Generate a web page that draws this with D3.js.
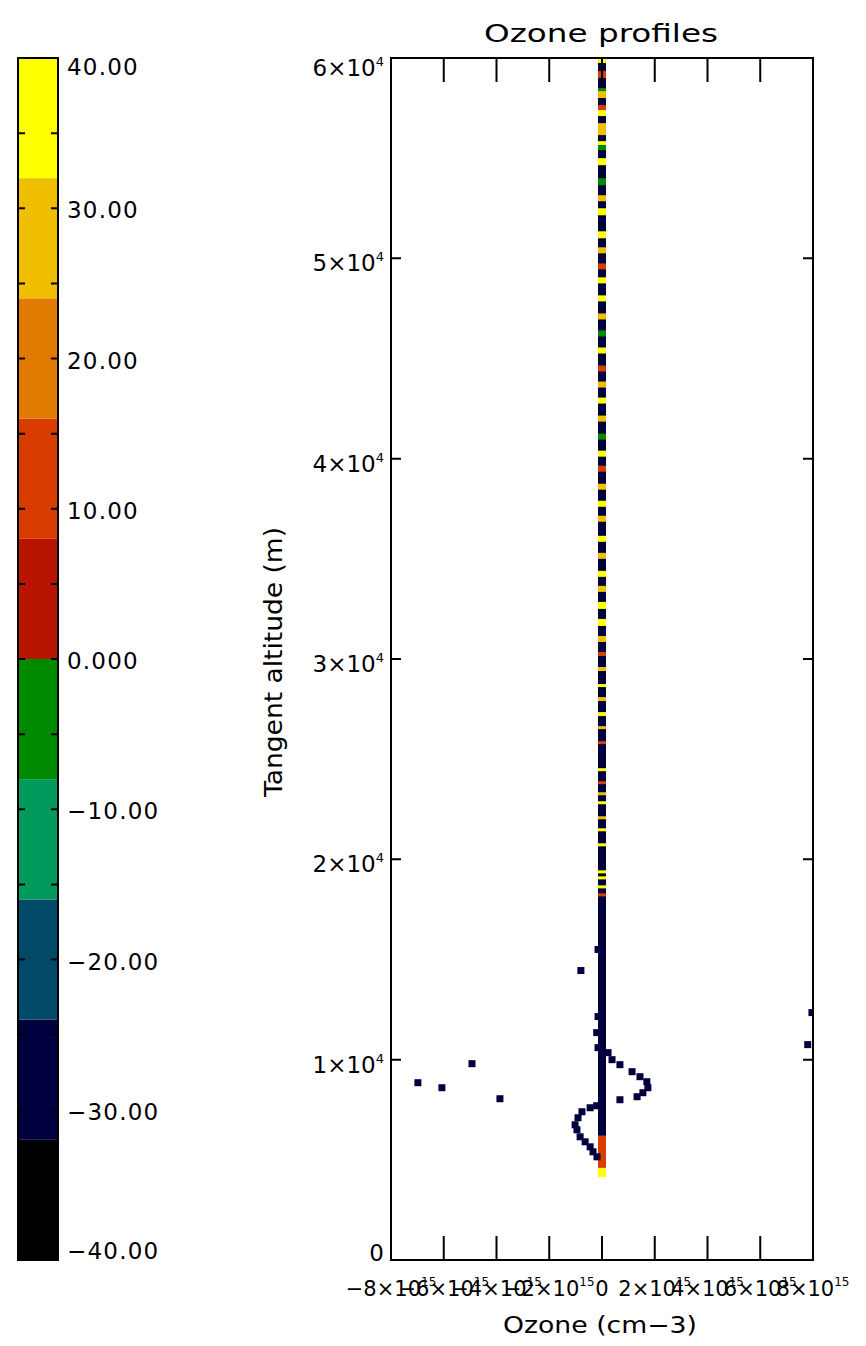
<!DOCTYPE html>
<html><head><meta charset="utf-8">
<script src="https://cdn.jsdelivr.net/npm/d3@7/dist/d3.min.js"></script>
<style>
body{margin:0;background:#fff}
svg{display:block}
text{font-family:"DejaVu Sans",sans-serif;fill:#000}
</style>
</head><body>
<svg id="chart" width="866" height="1346"></svg>
<script>
// ---------------- data ----------------
const colorThresholds = [-32,-24,-16,-8,0,8,16,24,32];
const colorBands = ["#000000","#00003f","#004a68","#009a5c","#008a00","#b81400","#d83c00","#e07a00","#f0be00","#ffff00"];
const colorbarBreaks = [-40,-32,-24,-16,-8,0,8,16,24,32,40];
const colorbarTicks = [40,30,20,10,0,-10,-20,-30,-40];
const colorbarLabels = ["40.00","30.00","20.00","10.00","0.000","\u221210.00","\u221220.00","\u221230.00","\u221240.00"];
const colorbarMinor = [35,25,15,5,-5,-15,-25,-35];

const xTicks = [-8e15,-6e15,-4e15,-2e15,0,2e15,4e15,6e15,8e15];
const xTickMant = ["\u22128","\u22126","\u22124","\u22122","0","2","4","6","8"];
const xTickExp = ["15","15","15","15","","15","15","15","15"];
const yTicks = [0,1e4,2e4,3e4,4e4,5e4,6e4];
const yTickMant = ["0","1","2","3","4","5","6"];
const yTickExp = ["","4","4","4","4","4","4"];

// profile column at ozone = 0 : base segments (altitude m)
const columnBottom = [4150, 4600, 6200];
const columnTop    = [4600, 6200, 60000];
const columnValue  = [36, 12, -28];

// coloured stripes along the column (altitude m)
const stripeBottom = [59750,59000,58350,58000,57400,57100,56150,55650,55400,54650,53650,52850,52150,51000,
  50250,49450,48750,47850,46950,46100,45250,44350,43550,42750,41850,40950,40100,39350,38450,37600,36850,35850,35000,34100,33350,
  32500,31650,30850,30150,29400,28650,27900,27150,26500,25750,24450,23750,23250,22850,22050,21450,20700,19350,19050,18600,18200];
const stripeTop    = [60000,59350,58500,58350,57650,57400,56750,55850,55650,55000,54000,53150,52500,51350,
  50550,49750,49050,48150,47250,46400,45550,44650,43850,43050,42150,41250,40400,39650,38750,37900,37150,36150,35300,34400,33650,
  32850,32000,31150,30350,29600,28750,28100,27350,26650,25900,24550,23900,23350,22900,22150,21550,20800,19450,19150,18700,18300];
const stripeValue  = [36,12,-4,28,12,36,28,36,-4,36,-4,28,36,36,
  28,12,36,36,28,-4,36,12,28,36,28,-4,36,12,28,36,28,36,28,36,28,
  36,36,28,12,28,36,28,36,28,12,36,12,28,36,28,36,36,36,36,36,12];

// scattered retrievals (ozone cm-3, altitude m), all in the -30 band
const pointOzone = [-0.15e15,-0.8e15,-0.15e15,-0.2e15,-0.15e15,
  0.23e15,0.38e15,0.68e15,1.14e15,1.44e15,1.7e15,1.74e15,1.55e15,1.33e15,0.68e15,
  -0.2e15,-0.45e15,-0.76e15,-0.91e15,-1.02e15,-0.95e15,-0.83e15,-0.64e15,-0.45e15,-0.34e15,-0.19e15,
  -6.98e15,-6.07e15,-4.93e15,-3.87e15,
  7.96e15,7.8e15];
const pointAlt = [15500,14450,12150,11350,10600,
  10350,10000,9750,9400,9150,8900,8600,8350,8150,8000,
  7700,7600,7400,7100,6750,6500,6150,5900,5650,5400,5150,
  8850,8600,9800,8050,
  12350,10750];
const pointValue = pointOzone.map(()=>-28);

// ---------------- layout ----------------
const svg = d3.select("#chart");
const plot = {left:391, right:813, top:58, bottom:1260};
const cbar = {left:18, right:58, top:58, bottom:1260};
const color = d3.scaleThreshold().domain(colorThresholds).range(colorBands);

const x = d3.scaleLinear().domain([-8e15,8e15]).range([plot.left,plot.right]);
const y = d3.scaleLinear().domain([0,6e4]).range([plot.bottom,plot.top]);
const cy = d3.scaleLinear().domain([-40,40]).range([cbar.bottom,cbar.top]);

// ---------------- colour bar ----------------
const cb = svg.append("g");
cb.selectAll("rect.band").data(d3.range(colorBands.length)).join("rect")
  .attr("x",cbar.left).attr("width",cbar.right-cbar.left)
  .attr("y",i=>cy(colorbarBreaks[i+1])).attr("height",i=>cy(colorbarBreaks[i])-cy(colorbarBreaks[i+1]))
  .attr("fill",i=>colorBands[i]);
const allCbTicks = colorbarTicks.concat(colorbarMinor);
cb.selectAll("path.tk").data(allCbTicks).join("path")
  .attr("d",v=>`M${cbar.left},${cy(v)}h7M${cbar.right},${cy(v)}h-7`)
  .attr("stroke","#000").attr("stroke-width",2);
cb.append("rect").attr("x",cbar.left).attr("y",cbar.top).attr("width",cbar.right-cbar.left)
  .attr("height",cbar.bottom-cbar.top).attr("fill","none").attr("stroke","#000").attr("stroke-width",2);
cb.selectAll("text").data(colorbarTicks).join("text")
  .attr("x",67)
  .attr("y",(v,i)=> i===0 ? cy(v)+17 : (i===colorbarTicks.length-1 ? cy(v)-1 : cy(v)+10))
  .attr("font-size",23).attr("letter-spacing",1.2)
  .text((v,i)=>colorbarLabels[i]);

// ---------------- plot ----------------
const clipId = "plotclip";
svg.append("clipPath").attr("id",clipId).append("rect")
  .attr("x",plot.left).attr("y",plot.top).attr("width",plot.right-plot.left).attr("height",plot.bottom-plot.top);
const data = svg.append("g").attr("clip-path",`url(#${clipId})`);
const half = 4;
// column base
data.selectAll("rect.col").data(columnValue).join("rect")
  .attr("x",x(0)-half).attr("width",2*half)
  .attr("y",(v,i)=>y(columnTop[i])).attr("height",(v,i)=>y(columnBottom[i])-y(columnTop[i]))
  .attr("fill",v=>color(v));
// stripes
data.selectAll("rect.stripe").data(stripeValue).join("rect")
  .attr("x",x(0)-half).attr("width",2*half)
  .attr("y",(v,i)=>y(stripeTop[i])).attr("height",(v,i)=>Math.max(3,y(stripeBottom[i])-y(stripeTop[i])))
  .attr("fill",v=>color(v));
// scattered points
data.selectAll("rect.pt").data(pointValue).join("rect")
  .attr("x",(v,i)=>x(pointOzone[i])-3.5).attr("y",(v,i)=>y(pointAlt[i])-3.5)
  .attr("width",7).attr("height",7).attr("fill",v=>color(v));

// frame
svg.append("rect").attr("x",plot.left).attr("y",plot.top).attr("width",plot.right-plot.left)
  .attr("height",plot.bottom-plot.top).attr("fill","none").attr("stroke","#000").attr("stroke-width",2);
// x ticks (top and bottom)
svg.append("g").selectAll("path").data(xTicks).join("path")
  .attr("d",v=>`M${x(v)},${plot.bottom}v-24M${x(v)},${plot.top}v24`)
  .attr("stroke","#000").attr("stroke-width",2);
// y ticks (left and right)
svg.append("g").selectAll("path").data(yTicks).join("path")
  .attr("d",v=>`M${plot.left},${y(v)}h10M${plot.right},${y(v)}h-10`)
  .attr("stroke","#000").attr("stroke-width",2);

// x tick labels (they overlap in the original too)
const xl = svg.append("g").selectAll("text").data(xTicks).join("text")
  .attr("x",v=>x(v)).attr("y",1296).attr("text-anchor","middle").attr("font-size",21);
xl.each(function(v,i){
  const t = d3.select(this);
  if (xTickExp[i]==="") { t.text(xTickMant[i]); return; }
  t.append("tspan").text(xTickMant[i]+"\u00d710");
  t.append("tspan").attr("dy",-10).attr("font-size",12).text(xTickExp[i]);
});
// y tick labels
const yl = svg.append("g").selectAll("text").data(yTicks).join("text")
  .attr("x",384).attr("y",(v,i)=> i===0 ? y(v)+1 : (i===yTicks.length-1 ? y(v)+18 : y(v)+13))
  .attr("text-anchor","end").attr("font-size",23);
yl.each(function(v,i){
  const t = d3.select(this);
  if (yTickExp[i]==="") { t.text(yTickMant[i]); return; }
  t.append("tspan").text(yTickMant[i]+"\u00d710");
  t.append("tspan").attr("dy",-10).attr("font-size",13).text(yTickExp[i]);
});

// titles
svg.append("text").attr("x",601).attr("y",42).attr("text-anchor","middle").attr("font-size",24)
  .attr("textLength",234).attr("lengthAdjust","spacingAndGlyphs").text("Ozone profiles");
svg.append("text").attr("x",600).attr("y",1333).attr("text-anchor","middle").attr("font-size",23)
  .attr("textLength",194).attr("lengthAdjust","spacingAndGlyphs").text("Ozone (cm\u22123)");
svg.append("text").attr("transform","translate(282,662) rotate(-90)").attr("text-anchor","middle")
  .attr("font-size",24).attr("textLength",270).attr("lengthAdjust","spacingAndGlyphs")
  .text("Tangent altitude (m)");
</script>
</body></html>
